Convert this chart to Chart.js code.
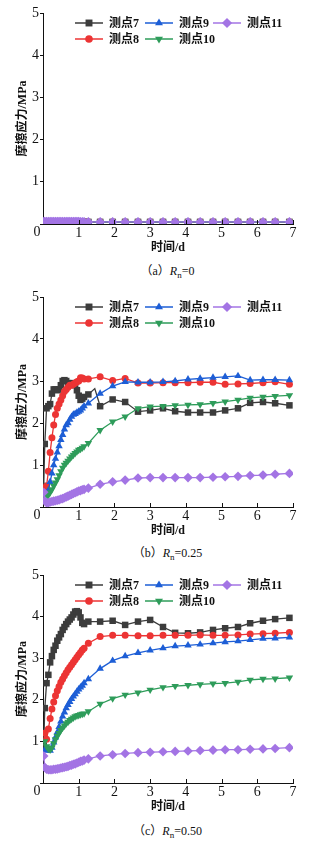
<!DOCTYPE html>
<html>
<head>
<meta charset="utf-8">
<script src="https://cdn.jsdelivr.net/npm/chart.js@4"></script>
<style>
  body { margin: 0; background: #fff; width: 335px; height: 850px; position: relative; overflow: hidden; }
  .panel { position: absolute; left: 0; width: 335px; }
  .cap { position: absolute; left: 0; width: 335px; text-align: center; font: 12px 'Liberation Serif', 'Noto Sans CJK SC', serif; color: #111; line-height: 16px; }
  .cap sub { font-size: 9px; }
</style>
</head>
<body>
<div class="panel" style="top:0"><canvas id="chartA" width="335" height="260"></canvas></div>
<div class="cap" style="top:263px">（a）<i>R</i><sub>n</sub>=0</div>
<div class="panel" style="top:284px"><canvas id="chartB" width="335" height="259"></canvas></div>
<div class="cap" style="top:545px">（b）<i>R</i><sub>n</sub>=0.25</div>
<div class="panel" style="top:562px"><canvas id="chartC" width="335" height="257"></canvas></div>
<div class="cap" style="top:823px">（c）<i>R</i><sub>n</sub>=0.50</div>

<script>
// time axis (days) shared by every series
const days = [0.02, 0.05, 0.1, 0.15, 0.2, 0.25, 0.3, 0.35, 0.4, 0.45, 0.5, 0.55, 0.6, 0.65, 0.7, 0.75, 0.8, 0.85, 0.9, 0.95, 1.0, 1.05, 1.1, 1.15,
  1.27, 1.45, 1.6, 1.95, 2.3, 2.66, 3.0, 3.1, 3.36, 3.7, 4.06, 4.4, 4.76, 5.1, 5.46, 5.8, 6.16, 6.5, 6.9];
// readings drawn as line only, no marker
const bendDays = [1.45, 3.1];

const names = ['测点7', '测点8', '测点9', '测点10', '测点11'];
const xTicks = [0, 1, 2, 3, 4, 5, 6, 7];
const yTicks = [0, 1, 2, 3, 4, 5];

// (a) Rn = 0
const a7 = [0.05, 0.05, 0.05, 0.05, 0.05, 0.05, 0.05, 0.05, 0.05, 0.05, 0.05, 0.05, 0.05, 0.05, 0.05, 0.05, 0.05, 0.05, 0.05, 0.05, 0.05, 0.05, 0.05, 0.05,
  0.05, null, 0.05, 0.05, 0.05, 0.05, 0.05, null, 0.05, 0.05, 0.05, 0.05, 0.05, 0.05, 0.05, 0.05, 0.05, 0.05, 0.05];
const a8 = [0.05, 0.05, 0.05, 0.05, 0.05, 0.05, 0.05, 0.05, 0.05, 0.05, 0.05, 0.05, 0.05, 0.05, 0.05, 0.05, 0.05, 0.05, 0.05, 0.05, 0.05, 0.05, 0.05, 0.05,
  0.05, null, 0.05, 0.05, 0.05, 0.05, 0.05, null, 0.05, 0.05, 0.05, 0.05, 0.05, 0.05, 0.05, 0.05, 0.05, 0.05, 0.05];
const a9 = [0.05, 0.05, 0.05, 0.05, 0.05, 0.05, 0.05, 0.05, 0.05, 0.05, 0.05, 0.05, 0.05, 0.05, 0.05, 0.05, 0.05, 0.05, 0.05, 0.05, 0.05, 0.05, 0.05, 0.05,
  0.05, null, 0.05, 0.05, 0.05, 0.05, 0.05, null, 0.05, 0.05, 0.05, 0.05, 0.05, 0.05, 0.05, 0.05, 0.05, 0.05, 0.05];
const a10 = [0.05, 0.05, 0.05, 0.05, 0.05, 0.05, 0.05, 0.05, 0.05, 0.05, 0.05, 0.05, 0.05, 0.05, 0.05, 0.05, 0.05, 0.05, 0.05, 0.05, 0.05, 0.05, 0.05, 0.05,
  0.05, null, 0.05, 0.05, 0.05, 0.05, 0.05, null, 0.05, 0.05, 0.05, 0.05, 0.05, 0.05, 0.05, 0.05, 0.05, 0.05, 0.05];
const a11 = [0.06, 0.06, 0.06, 0.06, 0.06, 0.06, 0.06, 0.06, 0.06, 0.06, 0.06, 0.06, 0.06, 0.06, 0.06, 0.06, 0.06, 0.06, 0.06, 0.06, 0.06, 0.05, 0.05, 0.05,
  0.05, null, 0.05, 0.05, 0.05, 0.05, 0.05, null, 0.05, 0.05, 0.05, 0.05, 0.05, 0.05, 0.05, 0.05, 0.05, 0.05, 0.05];

// (b) Rn = 0.25
const b7 = [0.5, 1.5, 2.35, 2.4, 2.45, 2.7, 2.8, 2.8, 2.78, 2.8, 2.9, 3.0, 3.02, 3.0, 2.95, 2.92, 2.92, 2.95, 2.9, 2.78, 2.65, 2.55, 2.58, 2.62,
  2.68, 2.82, 2.4, 2.56, 2.5, 2.27, 2.3, null, 2.35, 2.28, 2.25, 2.25, 2.25, 2.3, 2.35, 2.48, 2.5, 2.47, 2.42];
const b8 = [null, 0.45, 0.5, 0.85, 1.3, 1.65, 1.95, 2.2, 2.35, 2.45, 2.55, 2.65, 2.75, 2.8, 2.85, 2.9, 2.9, 2.92, 2.95, 2.98, 3.0, 3.08, 3.07, 3.05,
  3.05, null, 3.1, 3.01, 3.06, 2.95, 2.95, null, 2.96, 2.96, 2.96, 2.97, 2.97, 2.92, 2.93, 2.94, 2.96, 2.98, 2.92];
const b9 = [null, 0.3, 0.3, 0.4, 0.6, 0.8, 1.0, 1.15, 1.3, 1.45, 1.6, 1.72, 1.85, 1.95, 2.0, 2.08, 2.15, 2.2, 2.22, 2.25, 2.27, 2.3, 2.35, 2.4,
  2.47, null, 2.7, 2.88, 2.98, 2.97, 2.97, null, 2.98, 3.0, 3.04, 3.06, 3.08, 3.1, 3.12, 3.02, 3.03, 3.03, 3.02];
const b10 = [null, 0.22, 0.25, 0.28, 0.35, 0.42, 0.5, 0.58, 0.66, 0.75, 0.85, 0.93, 1.0, 1.05, 1.1, 1.15, 1.2, 1.24, 1.28, 1.32, 1.36, 1.38, 1.41, 1.44,
  1.52, null, 1.83, 2.03, 2.15, 2.35, 2.39, null, 2.4, 2.42, 2.43, 2.44, 2.47, 2.51, 2.55, 2.6, 2.62, 2.64, 2.66];
const b11 = [0.35, 0.15, 0.1, 0.1, 0.12, 0.13, 0.14, 0.15, 0.16, 0.17, 0.19, 0.2, 0.22, 0.24, 0.26, 0.28, 0.3, 0.32, 0.34, 0.36, 0.38, 0.39, 0.41, 0.42,
  0.45, null, 0.54, 0.6, 0.64, 0.69, 0.7, null, 0.7, 0.7, 0.7, 0.7, 0.71, 0.72, 0.73, 0.75, 0.76, 0.78, 0.8];

// (c) Rn = 0.50
const c7 = [0.9, 1.8, 2.4, 2.6, 2.9, 3.05, 3.2, 3.3, 3.42, 3.5, 3.58, 3.68, 3.75, 3.82, 3.88, 3.93, 3.98, 4.05, 4.12, 4.13, 4.1, 3.98, 3.85, 3.82,
  3.88, null, 3.88, 3.9, 3.8, 3.88, 3.92, 3.88, 3.75, 3.61, 3.6, 3.62, 3.68, 3.72, 3.75, 3.84, 3.9, 3.94, 3.97];
const c8 = [null, 1.2, 1.05, 1.3, 1.55, 1.78, 1.95, 2.1, 2.22, 2.32, 2.42, 2.5, 2.58, 2.65, 2.72, 2.78, 2.84, 2.9, 2.96, 3.02, 3.08, 3.14, 3.2, 3.24,
  3.36, null, 3.52, 3.55, 3.55, 3.54, 3.54, null, 3.55, 3.55, 3.55, 3.56, 3.55, 3.55, 3.56, 3.58, 3.59, 3.6, 3.62];
const c9 = [null, 0.8, 0.78, 0.8, 0.78, 0.85, 0.98, 1.1, 1.22, 1.35, 1.48, 1.6, 1.7, 1.8, 1.88, 1.95, 2.02, 2.08, 2.14, 2.2, 2.25, 2.3, 2.34, 2.4,
  2.5, null, 2.75, 2.94, 3.05, 3.13, 3.19, null, 3.24, 3.29, 3.31, 3.33, 3.36, 3.39, 3.41, 3.44, 3.47, 3.48, 3.5];
const c10 = [null, 1.0, 0.88, 0.82, 0.8, 0.85, 0.95, 1.05, 1.13, 1.2, 1.27, 1.33, 1.38, 1.43, 1.47, 1.51, 1.54, 1.57, 1.6, 1.62, 1.63, 1.65, 1.66, 1.67,
  1.72, null, 1.9, 2.03, 2.12, 2.17, 2.24, null, 2.3, 2.33, 2.35, 2.37, 2.39, 2.4, 2.43, 2.48, 2.5, 2.51, 2.53];
const c11 = [0.65, 0.38, 0.33, 0.32, 0.32, 0.32, 0.33, 0.33, 0.34, 0.35, 0.36, 0.37, 0.38, 0.39, 0.4, 0.42, 0.43, 0.45, 0.46, 0.48, 0.5, 0.52, 0.53, 0.55,
  0.58, null, 0.65, 0.68, 0.71, 0.73, 0.74, null, 0.75, 0.76, 0.77, 0.78, 0.79, 0.8, 0.8, 0.81, 0.82, 0.83, 0.85];

// look of each measuring point
const colors = ['#3c3c3c', '#ec3434', '#1d5ed6', '#2e9c5a', '#a374e4'];
const styles = ['rect', 'circle', 'triangle', 'triangle', 'rectRot'];
const rotations = [0, 0, 0, 180, 0];
const radii = [4.6, 3.5, 4.3, 4.3, 4.8];
const legendSlots = [[0, 0], [0, 1], [1, 0], [1, 1], [2, 0]]; // column, row
const legendCols = [32, 102, 170];

const textFont = "'Liberation Serif', 'Noto Sans CJK SC', serif";

// inward ticks on the time axis + the lone "0" in the corner
const axisExtras = {
  id: 'axisExtras',
  afterDraw(chart) {
    const ctx = chart.ctx;
    const area = chart.chartArea;
    const x = chart.scales.x;
    ctx.save();
    ctx.strokeStyle = '#111';
    ctx.lineWidth = 1;
    xTicks.forEach(d => {
      if (d === 0) return;
      const px = Math.round(x.getPixelForValue(d)) + 0.5;
      ctx.beginPath();
      ctx.moveTo(px, area.bottom);
      ctx.lineTo(px, area.bottom - 4);
      ctx.stroke();
    });
    ctx.fillStyle = '#111';
    ctx.font = '14px ' + textFont;
    ctx.textAlign = 'center';
    ctx.textBaseline = 'middle';
    ctx.fillText('0', area.left - 6, area.bottom + 8);
    ctx.restore();
  }
};

// legend in two rows inside the plot, like the original
const pointLegend = {
  id: 'pointLegend',
  afterDatasetsDraw(chart) {
    const ctx = chart.ctx;
    const area = chart.chartArea;
    ctx.save();
    chart.data.datasets.forEach((ds, i) => {
      const slot = legendSlots[i];
      const x0 = area.left + legendCols[slot[0]];
      const y = area.top + 10 + slot[1] * 16;
      ctx.strokeStyle = colors[i];
      ctx.lineWidth = 1.5;
      ctx.beginPath();
      ctx.moveTo(x0, y);
      ctx.lineTo(x0 + 28, y);
      ctx.stroke();
      ctx.fillStyle = colors[i];
      Chart.helpers.drawPoint(ctx, { pointStyle: styles[i], radius: radii[i] + 0.3, rotation: rotations[i], borderWidth: 0 }, x0 + 14, y);
      ctx.fillStyle = '#111';
      ctx.font = 'bold 12px ' + textFont;
      ctx.textAlign = 'left';
      ctx.textBaseline = 'middle';
      ctx.fillText(ds.label, x0 + 34, y + 1);
    });
    ctx.restore();
  }
};

function drawPanel(id, series) {
  return new Chart(document.getElementById(id), {
    type: 'line',
    data: {
      datasets: series.map((vals, i) => ({
        label: names[i],
        data: vals.map((v, k) => ({ x: days[k], y: v })),
        borderColor: colors[i],
        backgroundColor: colors[i],
        borderWidth: 1.3,
        pointStyle: styles[i],
        pointRotation: rotations[i],
        pointRadius: ctx => bendDays.includes(days[ctx.dataIndex]) ? 0 : radii[i],
        pointBorderWidth: 0,
        spanGaps: true,
        tension: 0,
        order: 4 - i
      }))
    },
    options: {
      responsive: false,
      animation: false,
      layout: { padding: { left: 0, right: 42, top: 13, bottom: 0 } },
      plugins: { legend: { display: false }, tooltip: { enabled: false } },
      scales: {
        x: {
          type: 'linear',
          min: 0,
          max: 7,
          afterBuildTicks: s => { s.ticks = xTicks.map(v => ({ value: v })); },
          afterFit: s => { s.height = 36; },
          grid: { drawOnChartArea: false, drawTicks: false },
          border: { color: '#111', width: 1 },
          ticks: { color: '#111', padding: 1, font: { family: textFont, size: 14 }, callback: v => v === 0 ? '' : v },
          title: { display: true, text: '时间/d', color: '#111', font: { family: textFont, size: 12, weight: 'bold' }, padding: { top: 0, bottom: 5 } }
        },
        y: {
          min: 0,
          max: 5,
          afterBuildTicks: s => { s.ticks = yTicks.map(v => ({ value: v })); },
          afterFit: s => { s.width = 43; },
          grid: { drawOnChartArea: false, tickLength: 3, color: '#111' },
          border: { color: '#111', width: 1 },
          ticks: { color: '#111', padding: 1, font: { family: textFont, size: 14 }, callback: v => v === 0 ? '' : v },
          title: { display: true, text: '摩擦应力/MPa', color: '#111', font: { family: textFont, size: 12, weight: 'bold' }, padding: { top: 16, bottom: 0 } }
        }
      }
    },
    plugins: [axisExtras, pointLegend]
  });
}

drawPanel('chartA', [a7, a8, a9, a10, a11]);
drawPanel('chartB', [b7, b8, b9, b10, b11]);
drawPanel('chartC', [c7, c8, c9, c10, c11]);
</script>
</body>
</html>
